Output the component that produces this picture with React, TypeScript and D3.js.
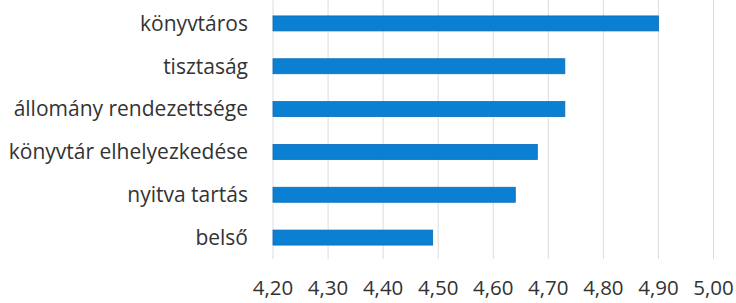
import React from "react";
import * as d3 from "d3";

const categories = ["könyvtáros", "tisztaság", "állomány rendezettsége", "könyvtár elhelyezkedése", "nyitva tartás", "belső"];
const values = [4.9, 4.73, 4.73, 4.68, 4.64, 4.49];
const ticks = [4.2, 4.3, 4.4, 4.5, 4.6, 4.7, 4.8, 4.9, 5.0];

const W = 736, H = 303;
const FONT = "'Open Sans', 'Liberation Sans', sans-serif";

export default function App() {
  const x = d3.scaleLinear().domain([4.2, 5.0]).range([273, 713.5]);
  const y = d3.scaleBand<string>().domain(categories).range([2, 259]).paddingInner(0.65).paddingOuter(0.325);
  const fmt = (v: number) => v.toFixed(2).replace(".", ",");
  return (
    <svg width={W} height={H} style={{ position: "absolute", left: 0, top: 0, background: "#fff" }} fontFamily={FONT}>
      <rect width={W} height={H} fill="#fff" />
      {ticks.map((t) => (
        <line key={t} x1={x(t)} x2={x(t)} y1={0} y2={259} stroke="#dcdcdc" strokeWidth={1} />
      ))}
      {categories.map((c, i) => (
        <g key={c}>
          <rect x={x(4.2)} y={y(c)!} width={x(values[i]) - x(4.2)} height={y.bandwidth()} fill="#0b7fd1" stroke="#0a6db8" strokeWidth={0.8} />
          <text x={248} y={y(c)! + y.bandwidth() / 2} dy="0.35em" textAnchor="end" fontSize={21} fill="#333">{c}</text>
        </g>
      ))}
      {ticks.map((t) => (
        <text key={"l" + t} x={x(t)} y={288} dy="0.35em" textAnchor="middle" fontSize={20.5} fill="#333">{fmt(t)}</text>
      ))}
    </svg>
  );
}
